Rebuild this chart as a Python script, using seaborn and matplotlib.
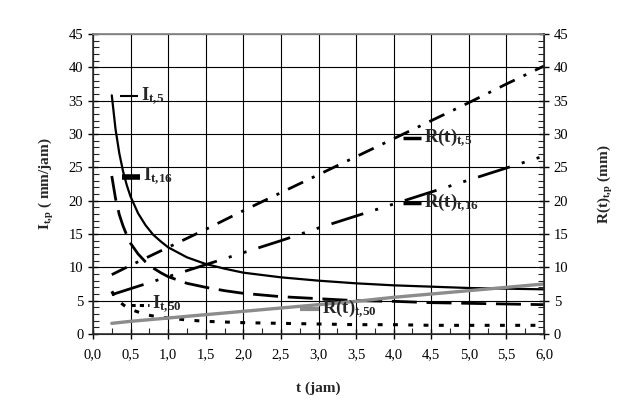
import numpy as np
import pandas as pd
import matplotlib
matplotlib.use("Agg")
import matplotlib.pyplot as plt
from matplotlib.ticker import MultipleLocator, FuncFormatter
import seaborn as sns

# durations for intensity curves (jam), denser at the steep start
t_I = [0.25, 0.3, 0.35, 0.4, 0.45, 0.5, 0.6, 0.7, 0.8, 0.9, 1.0, 1.25, 1.5,
       1.75, 2.0, 2.5, 3.0, 3.5, 4.0, 4.5, 5.0, 5.5, 6.0]

# intensity (mm/jam)
I_t5 = [35.8, 30.7, 27.1, 24.4, 22.3, 20.6, 18.1, 16.3, 14.9, 13.9, 13.0, 11.5,
        10.5, 9.8, 9.2, 8.5, 8.0, 7.6, 7.3, 7.1, 6.9, 6.8, 6.7]
I_t16 = [23.7, 20.3, 17.9, 16.2, 14.8, 13.6, 12.0, 10.8, 9.9, 9.2, 8.6, 7.6,
         7.0, 6.5, 6.1, 5.6, 5.3, 5.0, 4.9, 4.7, 4.6, 4.5, 4.4]
I_t50 = [6.4, 5.5, 4.9, 4.4, 4.0, 3.7, 3.3, 2.9, 2.7, 2.5, 2.4, 2.1,
         1.9, 1.8, 1.7, 1.6, 1.5, 1.4, 1.4, 1.3, 1.3, 1.3, 1.3]

# durations for rain depth lines (jam)
t_R = [0.25, 0.5, 1.0, 1.5, 2.0, 2.5, 3.0, 3.5, 4.0, 4.5, 5.0, 5.5, 6.0]

# cumulative rain depth (mm)
R_t5 = [8.9, 10.3, 13.0, 15.7, 18.5, 21.2, 23.9, 26.6, 29.3, 32.0, 34.7, 37.5, 40.2]
R_t16 = [5.9, 6.8, 8.6, 10.4, 12.2, 14.0, 15.9, 17.7, 19.5, 21.3, 23.1, 24.9, 26.7]
R_t50 = [1.6, 1.9, 2.4, 2.9, 3.4, 3.9, 4.4, 4.9, 5.5, 6.0, 6.5, 7.0, 7.5]

sns.set_style("ticks")
plt.rcParams["font.family"] = ["Liberation Serif", "DejaVu Serif"]
plt.rcParams["mathtext.fontset"] = "custom"
plt.rcParams["mathtext.rm"] = "Liberation Serif"
plt.rcParams["mathtext.bf"] = "Liberation Serif:bold"
plt.rcParams["mathtext.it"] = "Liberation Serif:italic"
plt.rcParams["lines.scale_dashes"] = False

df_I = pd.DataFrame({"t": t_I, "I5": I_t5, "I16": I_t16, "I50": I_t50})
df_R = pd.DataFrame({"t": t_R, "R5": R_t5, "R16": R_t16, "R50": R_t50})

fig = plt.figure(figsize=(6.41, 4.19), dpi=100)
ax = fig.add_axes([93 / 641, 1 - 334 / 419, 451 / 641, 300 / 419])
ax2 = ax.twinx()

# intensity curves
sns.lineplot(data=df_I, x="t", y="I5", ax=ax, color="black", lw=1.6)
sns.lineplot(data=df_I, x="t", y="I16", ax=ax, color="black", lw=2)
ax.lines[-1].set_dashes([18, 7])
sns.lineplot(data=df_I, x="t", y="I50", ax=ax, color="black", lw=2.2)
ax.lines[-1].set_dashes([3.5, 7.5])

# rain depth lines
sns.lineplot(data=df_R, x="t", y="R5", ax=ax2, color="black", lw=2)
ax2.lines[-1].set_dashes([12, 7, 2.2, 7])
sns.lineplot(data=df_R, x="t", y="R16", ax=ax2, color="black", lw=2)
ax2.lines[-1].set_dashes([24, 9, 2.2, 9, 2.2, 9])
sns.lineplot(data=df_R, x="t", y="R50", ax=ax2, color="#8c8c8c", lw=2.4)

for a in (ax, ax2):
    a.set_xlim(0, 6)
    a.set_ylim(0, 45)
    a.yaxis.set_major_locator(MultipleLocator(5))
    a.yaxis.set_minor_locator(MultipleLocator(1))
    a.tick_params(axis="both", which="major", direction="inout", length=7,
                  width=1, labelsize=10.5, colors="black")
    a.tick_params(axis="both", which="minor", direction="in", length=4, width=0.8)

ax.xaxis.set_major_locator(MultipleLocator(0.5))
ax.xaxis.set_minor_locator(MultipleLocator(0.25))
ax.xaxis.set_major_formatter(FuncFormatter(lambda v, p: f"{v:.1f}".replace(".", ",")))
ax.grid(True, which="major", color="black", lw=0.8)
ax.set_axisbelow(True)
ax.tick_params(axis="x", pad=7)

for s in ("left", "bottom"):
    ax.spines[s].set_linewidth(1.1)
ax2.spines["right"].set_linewidth(1.1)
ax.spines["top"].set_color("#808080")
ax2.spines["top"].set_color("#808080")
ax.spines["top"].set_linewidth(1.2)

ax.set_xlabel("t (jam)", fontsize=11, fontweight="bold", labelpad=14)
ax.set_ylabel(r"$\mathbf{I_{t{,}p}}$" + " ( mm/jam)", fontsize=11,
              fontweight="bold", labelpad=9)
ax2.set_ylabel(r"$\mathbf{R(t)_{t{,}p}}$" + " (mm)", fontsize=11,
               fontweight="bold", labelpad=20)

# in-plot labels with their legend keys
labels = [
    (ax, 0.36, 35.7, r"$\mathbf{I_{t{,}5}}$", dict(color="black", lw=1.5)),
    (ax, 0.38, 23.6, r"$\mathbf{I_{t{,}16}}$", dict(color="black", lw=4)),
    (ax, 0.50, 4.4, r"$\mathbf{I_{t{,}50}}$", dict(color="black", lw=2.2, dashes=[3, 3])),
    (ax2, 4.12, 29.4, r"$\mathbf{R(t)_{t{,}5}}$", dict(color="black", lw=2.5)),
    (ax2, 4.12, 19.6, r"$\mathbf{R(t)_{t{,}16}}$", dict(color="black", lw=2.5)),
    (ax2, 2.76, 3.7, r"$\mathbf{R(t)_{t{,}50}}$", dict(color="#8c8c8c", lw=3)),
]
for a, x0, y0, txt, kw in labels:
    a.plot([x0, x0 + 0.24], [y0, y0], solid_capstyle="butt", **kw)
    a.text(x0 + 0.28, y0, txt, fontsize=13.5, va="center", ha="left")

fig.savefig("out.png", dpi=100)
